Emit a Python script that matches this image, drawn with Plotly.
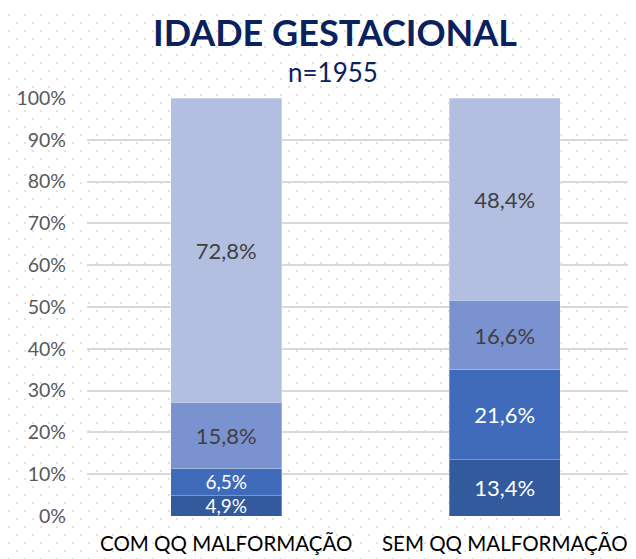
import plotly.graph_objects as go
import urllib.parse

categories = ["COM QQ MALFORMAÇÃO", "SEM QQ MALFORMAÇÃO"]
series_names = ["Faixa 1", "Faixa 2", "Faixa 3", "Faixa 4"]
values_s1 = [4.9, 13.4]
values_s2 = [6.5, 21.6]
values_s3 = [15.8, 16.6]
values_s4 = [72.8, 48.4]
y_ticks = [0, 10, 20, 30, 40, 50, 60, 70, 80, 90, 100]

colors = ["#335A9C", "#3F6BBA", "#7B92D0", "#B3BFE0"]
text_colors = ["#FFFFFF", "#FFFFFF", "#404040", "#404040"]
FONT = "Lato, 'Open Sans', sans-serif"

W, H = 636, 559
L, R, T, B = 79, 0, 90, 51

fig = go.Figure()
for name, vals, c, tc in zip(series_names, [values_s1, values_s2, values_s3, values_s4], colors, text_colors):
    sizes = [19 if v < 8 else 22 for v in vals]
    fig.add_trace(go.Bar(
        x=categories, y=vals, name=name,
        marker=dict(color=c, line=dict(width=0.6, color="rgba(255,255,255,0.5)")),
        width=0.40,
        text=[f"{v:.1f}%".replace(".", ",") for v in vals],
        textposition="inside", insidetextanchor="middle",
        constraintext="none",
        textfont=dict(family=FONT, size=sizes, color=tc),
        hoverinfo="skip",
    ))

# dotted background pattern
svg = (f'<svg xmlns="http://www.w3.org/2000/svg" width="{W}" height="{H}">'
       '<defs><pattern id="p" width="16" height="16" patternUnits="userSpaceOnUse">'
       '<rect x="0" y="6" width="2" height="2" fill="#E2E2E2"/>'
       '<rect x="8" y="14" width="2" height="2" fill="#E2E2E2"/>'
       '</pattern></defs>'
       f'<rect width="{W}" height="{H}" fill="url(#p)"/></svg>')
uri = "data:image/svg+xml;charset=utf-8," + urllib.parse.quote(svg)
pw, ph = W - L - R, H - T - B

fig.update_layout(
    width=W, height=H,
    margin=dict(l=L, r=R, t=T, b=B, pad=0, autoexpand=False),
    barmode="stack", showlegend=False,
    paper_bgcolor="white", plot_bgcolor="rgba(0,0,0,0)",
    font=dict(family=FONT),
    images=[dict(source=uri, xref="paper", yref="paper",
                 x=-L / pw, y=1 + T / ph, sizex=W / pw, sizey=H / ph,
                 xanchor="left", yanchor="top", sizing="stretch", layer="below")],
    xaxis=dict(range=[-0.5, 1.5], showgrid=False, zeroline=False, showline=False,
               automargin=False,
               ticks="", tickfont=dict(family=FONT, size=20.5, color="#000000"),
               ticklabelstandoff=13),
    yaxis=dict(range=[0, 100], tickvals=y_ticks,
               ticktext=[f"{t}%" for t in y_ticks],
               automargin=False,
               showgrid=True, gridcolor="#D9D9D9", gridwidth=1.5,
               zeroline=False, showline=False, ticks="",
               tickfont=dict(family=FONT, size=19.5, color="#595959"),
               ticklabelstandoff=20),
    annotations=[
        dict(text="<b>IDADE GESTACIONAL</b>", xref="paper", yref="paper",
             x=(327 - L) / pw, y=1 + (T - 24) / ph, xanchor="center", yanchor="middle",
             showarrow=False, font=dict(family=FONT, size=36, color="#0A215E")),
        dict(text="n=1955", xref="paper", yref="paper",
             x=(325 - L) / pw, y=1 + (T - 64) / ph, xanchor="center", yanchor="middle",
             showarrow=False, font=dict(family=FONT, size=26, color="#0A215E")),
    ],
)

fig.write_html("out.html")
